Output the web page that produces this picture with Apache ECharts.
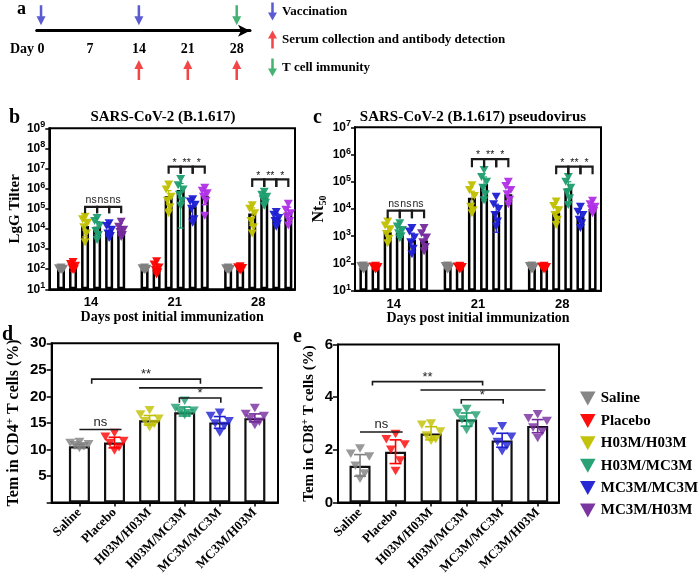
<!DOCTYPE html>
<html><head><meta charset="utf-8">
<script src="https://cdn.jsdelivr.net/npm/echarts@6/dist/echarts.min.js"></script>
<style>html,body{margin:0;padding:0;background:#fff}#c{width:700px;height:577px}</style>
</head><body><div id="c"></div>
<script>
// ================= DATA =================
const groups = ['Saline','Placebo','H03M/H03M','H03M/MC3M','MC3M/MC3M','MC3M/H03M'];
const days = ['14','21','28'];
const timelineDays = [0,7,14,21,28];
const vaccinationDays = [0,14];
const serumDays = [14,21,28];
const tcellDays = [28];

// Panel b: IgG titer (rows = groups, cols = day 14/21/28)
const bBars = [[100,100,100],[110,110,100],[14000,420000,58000],[13000,850000,360000],[8500,130000,40000],[8000,450000,65000]];
const bPoints = [
  [[120,110,105,100,95,90],[120,110,105,100,95,90],[120,110,105,100,95,90]],
  [[230,180,150,120,100,90],[250,170,120,90,70,55],[140,125,115,105,95,85]],
  [[40000,30000,20000,12000,6000,2200],[1600000,900000,400000,250000,120000,60000],[150000,100000,60000,25000,12000,6000]],
  [[35000,25000,15000,8000,5000,2800],[3000000,1500000,900000,500000,250000,140000],[700000,500000,400000,300000,200000,140000]],
  [[19000,14000,9000,6000,4500,3500],[300000,230000,160000,100000,30000,20000],[70000,50000,35000,25000,18000,13000]],
  [[23000,13000,9000,7000,5000,4000],[1100000,800000,600000,400000,250000,45000],[180000,90000,60000,40000,25000,15000]]
];
const bErrLow = [[92,92,92],[80,60,90],[4000,100000,15000],[5000,11000,200000],[5000,40000,25000],[5000,160000,20000]];
const bErrHigh = [[112,112,112],[170,180,125],[25000,800000,110000],[23000,1800000,550000],[13000,230000,60000],[13000,800000,120000]];
const bSigTop = [126000,12600000,2900000];
const bSigLeg = [60000,5500000,1200000];

// Panel c: Nt50
const cBars = [[70,70,70],[68,68,68],[1400,26000,7300],[1350,83000,56000],[730,8000,5200],[700,35000,10000]];
const cPoints = [
  [[85,80,75,70,65,60],[85,80,75,70,65,60],[85,80,75,70,65,60]],
  [[82,78,74,70,65,60],[82,78,74,70,65,60],[82,78,74,70,65,60]],
  [[3500,2500,1800,1200,800,550],[75000,50000,30000,12000,9000,7000],[19000,13000,9000,6000,4000,2600]],
  [[3000,2300,1700,1300,1000,850],[270000,150000,100000,60000,35000,21000],[150000,100000,60000,40000,25000,14000]],
  [[2000,1500,900,600,350,220],[28000,15000,10000,6000,3500,2300],[12000,8000,6000,4000,3000,2000]],
  [[2000,1300,900,600,400,280],[100000,70000,50000,35000,22000,15000],[20000,15000,12000,10000,8500,7000]]
];
const cErrLow = [[60,60,60],[60,60,60],[700,8000,3500],[900,20000,15000],[250,1400,2500],[350,15000,8000]];
const cErrHigh = [[80,80,80],[78,78,78],[2200,45000,12000],[2000,150000,100000],[1300,15000,8000],[1100,60000,13000]];
const cSigTop = [8700,680000,360000];
const cSigLeg = [4600,340000,190000];
const logSigLabels = [['ns','ns','ns'],['*','**','*'],['*','**','*']];

// Panel d: Tem in CD4+ T cells (%)
const dBars = [10.6,11.3,15.5,17.0,15.1,15.9];
const dPoints = [[11.4,11.2,11.0,10.8,10.6,10.3],[13.1,12.4,11.6,11.2,10.4,9.8],[17.4,16.6,15.8,15.3,14.8,14.2],[19.2,17.8,17.3,17.1,16.8,16.5],[16.9,16.3,15.3,14.9,14.4,13.2],[17.8,16.7,16.3,15.8,15.2,14.6]];
const dErrLow = [10.2,10.3,14.6,16.3,14.0,15.2];
const dErrHigh = [11.0,12.3,16.4,18.0,16.2,16.7];
const dSigTop = [13.75,23.25,21.6,19.7];
const dSigLeg = [13.75,22.4,21.6,18.8];

// Panel e: Tem in CD8+ T cells (%)
const eBars = [1.4,1.93,2.62,3.15,2.36,2.91];
const ePoints = [[2.05,1.85,1.75,1.4,1.1,0.9],[2.6,2.4,2.2,2.0,1.6,1.2],[3.0,2.95,2.7,2.55,2.4,2.35],[3.55,3.4,3.3,3.15,3.0,2.75],[2.9,2.7,2.5,2.3,2.15,1.95],[3.35,3.2,3.1,2.85,2.7,2.45]];
const eErrLow = [1.0,1.48,2.38,2.9,2.1,2.65];
const eErrHigh = [1.82,2.38,2.88,3.4,2.63,3.15];
const eSigTop = [2.68,4.59,4.27,3.9];
const eSigLeg = [2.68,4.44,4.27,3.75];

// comparison spans for d/e (in group index units) and their labels
const sigFrom = [0,0.35,1.7,2.85];
const sigTo = [1.2,3.45,5.22,4.03];
const sigLabels = ['ns','**','','*'];

// ================= STYLE / LAYOUT =================
const SERIF = 'Liberation Serif', SANS = 'Liberation Sans';
const groupColors = ['#808080','#ff0000','#c0c000','#1d9e6e','#1e1ed2','#742a9c'];
const purpleBright = '#b030e6';
const TRI = 'path://M0,0L10,0L5,9Z';
const arrowDown = 'path://M3.6,0L6.4,0L6.4,11L10,11L5,20L0,11L3.6,11Z';
const arrowUp = 'path://M5,0L10,9L6.4,9L6.4,20L3.6,20L3.6,9L0,9Z';
const PITCH = 0.144;
const JIT_LOG = [0,-0.03,0.03,-0.015,0.015,0];
const JIT_LIN = [0,-0.26,0.26,-0.13,0.13,0];
const LANE_ABOVE = 0.5, LANE_BELOW = -1.28;

function colorOf(gi, di, log){ return (log && gi===5 && di>0) ? purpleBright : groupColors[gi]; }
const bold = (fam,size,extra)=>Object.assign({fontFamily:fam,fontWeight:'bold',fontSize:size,color:'#000'},extra||{});

function errRender(cap, lw, log){
  return function(params, api){
    const x=api.value(0), lo=api.value(1), hi=api.value(2), gi=api.value(3), di=api.value(4);
    const a=api.coord([x,hi]), b=api.coord([x,lo]);
    const st={stroke:colorOf(gi,di,log), lineWidth:lw, fill:null};
    return {type:'group', children:[
      {type:'line', shape:{x1:a[0],y1:a[1],x2:b[0],y2:b[1]}, style:st},
      {type:'line', shape:{x1:a[0]-cap,y1:a[1],x2:a[0]+cap,y2:a[1]}, style:st},
      {type:'line', shape:{x1:b[0]-cap,y1:b[1],x2:b[0]+cap,y2:b[1]}, style:st}
    ]};
  };
}
function sigRender(labels, lw, fs){
  return function(params, api){
    const x1=api.value(0), x2=api.value(1), yt=api.value(2), yl=api.value(3);
    const p1=api.coord([x1,yl]), p2=api.coord([x1,yt]), p3=api.coord([x2,yt]), p4=api.coord([x2,yl]);
    const ch=[{type:'polyline', shape:{points:[p1,p2,p3,p4]}, style:{stroke:'#1a1a1a', lineWidth:lw, fill:null}}];
    const lab=labels[params.dataIndex];
    if(lab){
      const star = lab.indexOf('*')>=0;
      ch.push({type:'text', x:(p2[0]+p3[0])/2, y:p2[1]-(star?-2:1), style:{text:lab, fill:'#222', fontSize:fs, fontFamily:SANS, textAlign:'center', textVerticalAlign:'bottom', align:'center', verticalAlign:'bottom'}});
    }
    return {type:'group', children:ch};
  };
}

const series=[];
// ---- panel a ----
series.push({name:'Vaccination', type:'scatter', xAxisIndex:0, yAxisIndex:0, symbol:arrowDown, symbolSize:[9,20], itemStyle:{color:'#3232c8'}, clip:false, data:vaccinationDays.map(d=>[d,LANE_ABOVE])});
series.push({name:'Serum collection and antibody detection', type:'scatter', xAxisIndex:0, yAxisIndex:0, symbol:arrowUp, symbolSize:[9,20], itemStyle:{color:'#f01818'}, clip:false, data:serumDays.map(d=>[d,LANE_BELOW])});
series.push({name:'T cell immunity', type:'scatter', xAxisIndex:0, yAxisIndex:0, symbol:arrowDown, symbolSize:[9,20], itemStyle:{color:'#18a050'}, clip:false, data:tcellDays.map(d=>[d,LANE_ABOVE])});

// ---- panels b, c ----
function logPanel(ax, bars, pts, lo, hi, sigTop, sigLeg){
  const barData=[], errData=[];
  groups.forEach((g,gi)=>{
    const scat=[];
    days.forEach((d,di)=>{
      const x=di+(gi-2.5)*PITCH;
      barData.push([x,bars[gi][di]]);
      errData.push([x,lo[gi][di],hi[gi][di],gi,di]);
      pts[gi][di].forEach((v,k)=>scat.push({value:[x+JIT_LOG[k],v], itemStyle:{color:colorOf(gi,di,true)}}));
    });
    series.push({name:g, type:'scatter', xAxisIndex:ax, yAxisIndex:ax, symbol:TRI, symbolSize:[9,8], itemStyle:{color:groupColors[gi], opacity:0.95}, data:scat, z:4, silent:true});
  });
  series.push({type:'bar', xAxisIndex:ax, yAxisIndex:ax, data:barData, barWidth:8, clip:true, itemStyle:{color:'#fff', borderColor:'#000', borderWidth:2.5}, z:2, silent:true});
  series.push({type:'custom', xAxisIndex:ax, yAxisIndex:ax, data:errData, renderItem:errRender(3,1.2,true), z:5, silent:true});
  const sd=[], sl=[];
  days.forEach((d,di)=>[0,1,2].forEach(p=>{ sd.push([di+(p-0.5)*PITCH, di+(p+0.5)*PITCH, sigTop[di], sigLeg[di]]); sl.push(logSigLabels[di][p]); }));
  series.push({type:'custom', xAxisIndex:ax, yAxisIndex:ax, data:sd, renderItem:sigRender(sl,2.2,10.5), z:6, silent:true});
}
logPanel(1,bBars,bPoints,bErrLow,bErrHigh,bSigTop,bSigLeg);
logPanel(2,cBars,cPoints,cErrLow,cErrHigh,cSigTop,cSigLeg);

// ---- panels d, e ----
function linPanel(ax, bars, pts, lo, hi, sigTop, sigLeg){
  groups.forEach((g,gi)=>{
    series.push({name:g, type:'scatter', xAxisIndex:ax, yAxisIndex:ax, symbol:TRI, symbolSize:[10,8.5], itemStyle:{color:groupColors[gi]}, data:pts[gi].map((v,k)=>[gi+JIT_LIN[k],v]), z:4, silent:true});
  });
  series.push({type:'bar', xAxisIndex:ax, yAxisIndex:ax, data:bars.map((v,gi)=>[gi,v]), barWidth:21, itemStyle:{color:'#fff', borderColor:'#111', borderWidth:2.2}, z:2, silent:true});
  series.push({type:'custom', xAxisIndex:ax, yAxisIndex:ax, data:bars.map((v,gi)=>[gi,lo[gi],hi[gi],gi,0]), renderItem:errRender(6,1.6,false), z:5, silent:true});
  series.push({type:'custom', xAxisIndex:ax, yAxisIndex:ax, data:sigFrom.map((f,i)=>[f,sigTo[i],sigTop[i],sigLeg[i]]), renderItem:sigRender(sigLabels,1.6,13), z:6, silent:true});
}
linPanel(3,dBars,dPoints,dErrLow,dErrHigh,dSigTop,dSigLeg);
linPanel(4,eBars,ePoints,eErrLow,eErrHigh,eSigTop,eSigLeg);

// ================= AXES =================
const frame={show:true, borderColor:'#000', borderWidth:2, backgroundColor:'transparent'};
const grid=[
  {left:36.7, top:0, width:213.3, height:30.7, show:false},
  Object.assign({left:49.3, top:128.3, width:245.7, height:161}, frame),
  Object.assign({left:355, top:127.3, width:246, height:163.4}, frame),
  Object.assign({left:51.7, top:343.3, width:226.3, height:167.4}, frame),
  Object.assign({left:338, top:344.5, width:221, height:166.3}, frame)
];
const axLine={onZero:false, lineStyle:{color:'#000', width:2}};
const supRich={b:bold(SANS,12), s:bold(SANS,9,{padding:[0,0,7,0]})};
const logLabel={formatter:v=>'{b|10}{s|'+Math.round(Math.log10(v))+'}', rich:supRich, margin:4};
const xName={fontFamily:SERIF, fontWeight:'bold', fontSize:14, color:'#000'};

const xAxis=[
  {gridIndex:0, type:'value', min:-0.62, max:29.9, splitLine:{show:false}, axisTick:{show:false},
   axisLine:{onZero:false, lineStyle:{color:'#000', width:3}, symbol:['none','arrow'], symbolSize:[9,12]},
   axisLabel:{customValues:timelineDays, formatter:v=>String(v), margin:12, ...bold(SERIF,14)}},
  {gridIndex:1, type:'value', min:-0.5, max:2.44, splitLine:{show:false}, axisTick:{show:false}, axisLine:axLine,
   axisLabel:{customValues:[0,1,2], formatter:v=>days[Math.round(v)], margin:7, ...bold(SANS,13)},
   name:'Days post initial immunization', nameLocation:'middle', nameGap:21, nameTextStyle:xName},
  {gridIndex:2, type:'value', min:-0.46, max:2.46, splitLine:{show:false}, axisTick:{show:false}, axisLine:axLine,
   axisLabel:{customValues:[0,1,2], formatter:v=>days[Math.round(v)], margin:7, ...bold(SANS,13)},
   name:'Days post initial immunization', nameLocation:'middle', nameGap:21, nameTextStyle:xName},
  {gridIndex:3, type:'value', min:-0.79, max:5.66, splitLine:{show:false}, axisLine:axLine,
   axisTick:{customValues:[0,1,2,3,4,5], length:4, lineStyle:{color:'#000', width:1.5}},
   axisLabel:{customValues:[0,1,2,3,4,5], formatter:v=>groups[Math.round(v)], rotate:45, margin:8, ...bold(SERIF,13)}},
  {gridIndex:4, type:'value', min:-0.62, max:5.6, splitLine:{show:false}, axisLine:axLine,
   axisTick:{customValues:[0,1,2,3,4,5], length:4, lineStyle:{color:'#000', width:1.5}},
   axisLabel:{customValues:[0,1,2,3,4,5], formatter:v=>groups[Math.round(v)], rotate:45, margin:8, ...bold(SERIF,13)}}
];
const yAxis=[
  {gridIndex:0, type:'value', min:0, max:1, show:false},
  {gridIndex:1, type:'log', logBase:10, min:10, max:1e9, splitNumber:8, startValue:10, splitLine:{show:false}, axisLine:axLine,
   axisTick:{length:4, lineStyle:{color:'#000', width:1.5}}, axisLabel:logLabel,
   name:'LgG Tilter', nameLocation:'middle', nameRotate:90, nameGap:26, nameTextStyle:bold(SERIF,15)},
  {gridIndex:2, type:'log', logBase:10, min:10, max:1e7, splitNumber:6, startValue:10, splitLine:{show:false}, axisLine:axLine,
   axisTick:{length:4, lineStyle:{color:'#000', width:1.5}}, axisLabel:logLabel,
   name:'{a|Nt}{s|50}', nameLocation:'middle', nameRotate:90, nameGap:27,
   nameTextStyle:{rich:{a:bold(SERIF,16), s:bold(SERIF,10,{padding:[8,0,0,0]})}}},
  {gridIndex:3, type:'value', min:0, max:30, interval:5, splitLine:{show:false}, axisLine:axLine,
   axisTick:{length:5, lineStyle:{color:'#000', width:1.5}},
   axisLabel:{formatter:v=>v===0?'':String(v), margin:5, ...bold(SANS,15)},
   name:'{a|Tem in CD4}{s|+}{a| T cells (%)}', nameLocation:'middle', nameRotate:90, nameGap:28,
   nameTextStyle:{rich:{a:bold(SERIF,16), s:bold(SERIF,11,{padding:[0,0,8,0]})}}},
  {gridIndex:4, type:'value', min:0, max:6, interval:2, splitLine:{show:false}, axisLine:axLine,
   axisTick:{length:5, lineStyle:{color:'#000', width:1.5}},
   axisLabel:{margin:5, ...bold(SANS,15)},
   name:'{a|Tem in CD8}{s|+}{a| T cells (%)}', nameLocation:'middle', nameRotate:90, nameGap:20,
   nameTextStyle:{rich:{a:bold(SERIF,15), s:bold(SERIF,10,{padding:[0,0,8,0]})}}}
];

function txt(text,x,y,size,align,fam){
  return {type:'text', x:x, y:y, silent:true, style:{text:text, fontFamily:fam||SERIF, fontWeight:'bold', fontSize:size, fill:'#000', textAlign:align||'left', textVerticalAlign:'middle', align:align||'left', verticalAlign:'middle'}};
}
const graphic=[
  txt('a',17,9,18), txt('Day',10,49,14),
  txt('b',9,118,20), txt('SARS-CoV-2 (B.1.617)',163,117,15,'center'),
  txt('c',313,118,20), txt('SARS-CoV-2 (B.1.617) pseudovirus',473,117,15,'center'),
  txt('d',2,335,20), txt('e',293,337,20)
];

const legend=[
  {data:[{name:'Vaccination',icon:arrowDown},{name:'Serum collection and antibody detection',icon:arrowUp},{name:'T cell immunity',icon:arrowDown}],
   orient:'vertical', left:268, top:2, itemWidth:9, itemHeight:19, itemGap:9, selectedMode:false, padding:0,
   textStyle:bold(SERIF,13,{lineHeight:19})},
  {data:groups.map(n=>({name:n, icon:TRI})), orient:'vertical', left:580, top:391, itemWidth:16, itemHeight:14, itemGap:7.4,
   selectedMode:false, padding:0, textStyle:bold(SERIF,15,{lineHeight:14})}
];

const chart=echarts.init(document.getElementById('c'),null,{renderer:'canvas',width:700,height:577});
chart.setOption({animation:false, backgroundColor:'#fff', tooltip:{show:false}, grid, xAxis, yAxis, legend, graphic, series});
</script></body></html>
